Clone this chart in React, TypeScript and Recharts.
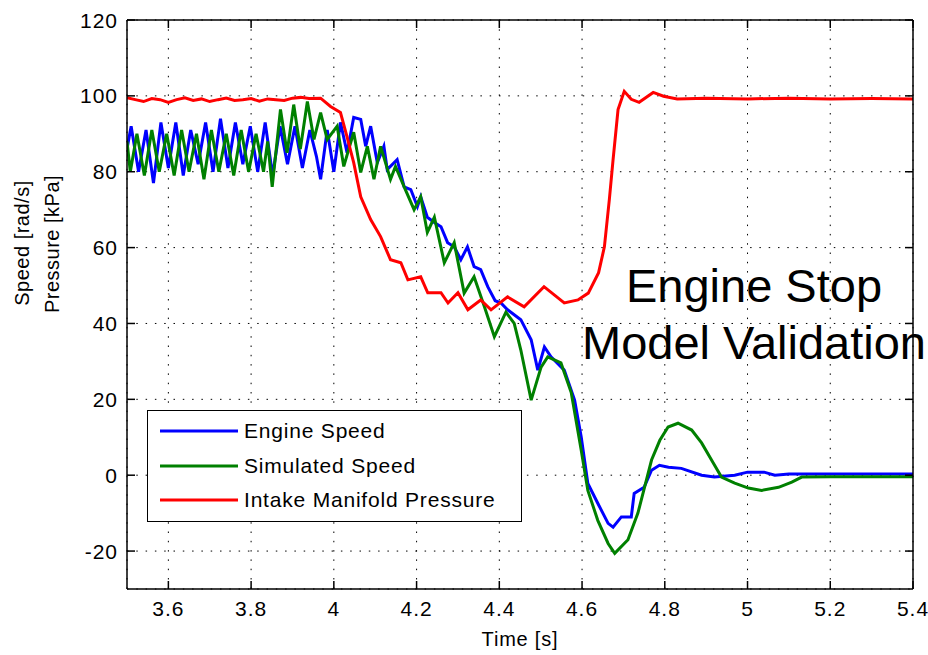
import React from 'react';
import { LineChart, Line, XAxis, YAxis, CartesianGrid, Legend } from 'recharts';

const xTicks = [3.6, 3.8, 4, 4.2, 4.4, 4.6, 4.8, 5, 5.2, 5.4];
const yTicks = [-20, 0, 20, 40, 60, 80, 100, 120];

const engineSpeed: [number, number][] = [
  [3.5, 86], [3.51, 92], [3.528, 80], [3.546, 91], [3.564, 77], [3.582, 93], [3.6, 81], [3.618, 93],
  [3.636, 79], [3.654, 91], [3.672, 82], [3.69, 93], [3.708, 80], [3.726, 94], [3.744, 81], [3.762, 93],
  [3.78, 82], [3.798, 92], [3.816, 80], [3.834, 93], [3.852, 79], [3.87, 92], [3.888, 82], [3.906, 92],
  [3.924, 81], [3.942, 91], [3.958, 84], [3.968, 78], [3.984, 91], [4.0, 80], [4.016, 93], [4.032, 85],
  [4.048, 94.3], [4.065, 93.8], [4.077, 86.7], [4.089, 92], [4.105, 82.4], [4.121, 86.7], [4.129, 80.6],
  [4.153, 83.2], [4.17, 76], [4.186, 75.3], [4.202, 70.8], [4.21, 73.4], [4.226, 68], [4.243, 66.6],
  [4.259, 65.5], [4.275, 61.3], [4.291, 60.2], [4.307, 56.8], [4.323, 60.2], [4.339, 55], [4.355, 54.2],
  [4.372, 49.7], [4.39, 46], [4.404, 45.4], [4.42, 43.6], [4.452, 41], [4.477, 35.7], [4.493, 27.7],
  [4.509, 33.8], [4.525, 31.2], [4.557, 27.7], [4.582, 19.8], [4.598, 10.1], [4.614, -2.2], [4.638, -7.4],
  [4.663, -12.7], [4.675, -13.7], [4.695, -11], [4.719, -11], [4.726, -4.8], [4.75, -3.2], [4.768, 1.3],
  [4.787, 2.6], [4.809, 2.1], [4.84, 1.8], [4.889, 0], [4.92, -0.5], [4.969, 0], [5.0, 0.8], [5.04, 0.8],
  [5.066, 0], [5.1, 0.3], [5.2, 0.3], [5.3, 0.3], [5.4, 0.3],
];

const simulatedSpeed: [number, number][] = [
  [3.5, 88], [3.508, 80], [3.524, 90], [3.542, 79], [3.56, 91], [3.578, 80], [3.596, 90], [3.614, 79],
  [3.632, 91], [3.65, 80], [3.668, 90], [3.686, 78], [3.704, 91], [3.722, 80], [3.74, 90], [3.758, 79],
  [3.776, 91], [3.794, 80], [3.812, 90], [3.83, 80], [3.84, 88], [3.851, 76], [3.871, 96.4], [3.887, 85],
  [3.903, 97.7], [3.919, 86], [3.936, 98.5], [3.952, 88.5], [3.968, 95.6], [3.984, 88.5], [4.008, 92],
  [4.024, 81.4], [4.048, 90.4], [4.065, 79.8], [4.081, 86.7], [4.097, 78], [4.113, 86.7], [4.137, 78],
  [4.149, 81.4], [4.17, 76], [4.194, 70], [4.21, 73.4], [4.226, 64], [4.243, 68], [4.267, 56], [4.291, 61.3],
  [4.315, 48], [4.339, 52.3], [4.364, 44.4], [4.388, 36.5], [4.416, 43], [4.436, 40], [4.452, 33],
  [4.477, 19.8], [4.501, 28.5], [4.517, 31.2], [4.549, 29.6], [4.574, 21.7], [4.598, 6.6], [4.614, -4],
  [4.638, -11.9], [4.663, -18], [4.679, -20.6], [4.711, -17], [4.735, -10], [4.751, -3.2], [4.768, 4],
  [4.788, 9.2], [4.808, 12.7], [4.832, 13.7], [4.865, 11.9], [4.889, 8.5], [4.913, 4], [4.937, -0.5],
  [4.969, -2.1], [5.002, -3.4], [5.034, -4], [5.075, -3.2], [5.107, -1.8], [5.131, -0.5], [5.2, -0.4],
  [5.3, -0.4], [5.4, -0.4],
];

const intakePressure: [number, number][] = [
  [3.5, 99.5], [3.52, 99], [3.54, 98.5], [3.56, 99.3], [3.58, 99], [3.6, 98.3], [3.62, 99], [3.64, 99.5],
  [3.66, 98.8], [3.68, 99.2], [3.7, 98.5], [3.72, 99], [3.74, 99.4], [3.76, 98.8], [3.78, 99], [3.8, 99.3],
  [3.82, 98.6], [3.84, 99.2], [3.86, 99], [3.88, 98.8], [3.9, 99.4], [3.92, 99.6], [3.94, 99.3], [3.968, 99.4],
  [3.992, 97.2], [4.016, 95.6], [4.03, 90], [4.048, 82.4], [4.065, 73.4], [4.089, 67.4], [4.113, 62.9],
  [4.137, 56.8], [4.162, 56], [4.179, 51.5], [4.21, 52.3], [4.227, 48.1], [4.259, 48.1], [4.276, 45.4],
  [4.3, 48.1], [4.324, 43.6], [4.355, 46.2], [4.38, 43.6], [4.42, 47], [4.46, 44.4], [4.508, 49.7],
  [4.557, 45.4], [4.59, 46.2], [4.615, 48], [4.64, 53.4], [4.654, 60.2], [4.666, 72.7], [4.675, 83.2],
  [4.687, 96.4], [4.702, 101.2], [4.719, 99.1], [4.738, 98.3], [4.772, 100.9], [4.797, 99.9], [4.83, 99.2],
  [4.9, 99.4], [5.0, 99.2], [5.1, 99.4], [5.2, 99.2], [5.3, 99.3], [5.4, 99.2],
];

const seriesNames = ['Engine Speed', 'Simulated Speed', 'Intake Manifold Pressure'];
const seriesColors = ['#0000ff', '#008000', '#ff0000'];

const toRows = (pairs: [number, number][]) => pairs.map(([t, v]) => ({ t, v }));

const FONT = '"Liberation Sans", Arial, Helvetica, sans-serif';
const AX = { stroke: '#000', strokeWidth: 1.5 };

const CHART_W = 920;
const CHART_H = 647;
const MARGIN = { top: 12, right: 15, bottom: 26, left: 59 };
const Y_AXIS_W = 60;
const X_AXIS_H = 40;
const PLOT_W = CHART_W - MARGIN.left - MARGIN.right - Y_AXIS_W;
const PLOT_H = CHART_H - MARGIN.top - MARGIN.bottom - X_AXIS_H;
const TICK_LEN = 8;
const X_TICK_GAP = 11;
const Y_TICK_GAP = 9;

const labelStyle = { fill: '#000', fontSize: 21, fontFamily: FONT, letterSpacing: 1 } as const;

const BottomTick = (props: any) => {
  const { x, y, payload } = props;
  const axisY = y - X_TICK_GAP;
  const topY = axisY - PLOT_H;
  return (
    <g>
      <line x1={x} x2={x} y1={axisY} y2={axisY - TICK_LEN} stroke="#000" strokeWidth={1.5} />
      <line x1={x} x2={x} y1={topY} y2={topY + TICK_LEN} stroke="#000" strokeWidth={1.5} />
      <text x={x} y={y} dy="0.75em" textAnchor="middle" {...labelStyle}>
        {String(payload.value)}
      </text>
    </g>
  );
};

const LeftTick = (props: any) => {
  const { x, y, payload } = props;
  const axisX = x + Y_TICK_GAP;
  const rightX = axisX + PLOT_W;
  return (
    <g>
      <line x1={axisX} x2={axisX + TICK_LEN} y1={y} y2={y} stroke="#000" strokeWidth={1.5} />
      <line x1={rightX - TICK_LEN} x2={rightX} y1={y} y2={y} stroke="#000" strokeWidth={1.5} />
      <text x={x} y={y} dy="0.36em" textAnchor="end" {...labelStyle}>
        {String(payload.value)}
      </text>
    </g>
  );
};

const renderLegend = () => (
  <div
    style={{
      width: 375,
      height: 112,
      border: '1.5px solid #000',
      background: '#fff',
      boxSizing: 'border-box',
      position: 'relative',
      fontFamily: FONT,
      fontSize: 21,
      letterSpacing: 0.8,
      color: '#000',
    }}
  >
    {seriesNames.map((name, i) => (
      <div
        key={name}
        style={{ position: 'absolute', left: 12, top: 8 + i * 34.5, height: 24, display: 'flex', alignItems: 'center' }}
      >
        <svg width={78} height={6} style={{ display: 'block' }}>
          <line x1={0} y1={3} x2={78} y2={3} stroke={seriesColors[i]} strokeWidth={3} />
        </svg>
        <span style={{ marginLeft: 6, whiteSpace: 'nowrap' }}>{name}</span>
      </div>
    ))}
  </div>
);

export default function App() {
  const data = [toRows(engineSpeed), toRows(simulatedSpeed), toRows(intakePressure)];
  return (
    <div style={{ position: 'relative', width: CHART_W, height: CHART_H, fontFamily: FONT }}>
      <style>{`html{overflow:hidden}body{margin:8px 0 0 8px}.recharts-surface{overflow:visible}`}</style>
      <LineChart width={CHART_W} height={CHART_H} margin={MARGIN}>
        <CartesianGrid stroke="#000" strokeDasharray="1.5 7.8" strokeWidth={1} />
        <XAxis
          dataKey="t"
          type="number"
          domain={[3.5, 5.4]}
          ticks={xTicks}
          interval={0}
          allowDataOverflow
          height={X_AXIS_H}
          tickSize={0}
          tickMargin={X_TICK_GAP}
          tick={BottomTick}
          axisLine={AX}
          tickLine={false}
        />
        <XAxis
          xAxisId="tm"
          orientation="top"
          mirror
          type="number"
          domain={[3.5, 5.4]}
          ticks={xTicks}
          allowDataOverflow
          height={10}
          tick={false}
          axisLine={AX}
          tickLine={false}
        />
        <YAxis
          type="number"
          domain={[-30, 120]}
          ticks={yTicks}
          interval={0}
          allowDataOverflow
          width={Y_AXIS_W}
          tickSize={0}
          tickMargin={Y_TICK_GAP}
          tick={LeftTick}
          axisLine={AX}
          tickLine={false}
        />
        <YAxis
          yAxisId="rm"
          orientation="right"
          mirror
          type="number"
          domain={[-30, 120]}
          ticks={yTicks}
          allowDataOverflow
          width={10}
          tick={false}
          axisLine={AX}
          tickLine={false}
        />
        <Legend
          layout="horizontal"
          verticalAlign="middle"
          align="center"
          content={renderLegend}
          wrapperStyle={{ left: 139, top: 402, width: 375, height: 112 }}
        />
        {data.map((rows, i) => (
          <Line
            key={seriesNames[i]}
            data={rows}
            dataKey="v"
            name={seriesNames[i]}
            stroke={seriesColors[i]}
            strokeWidth={3}
            dot={false}
            activeDot={false}
            type="linear"
            isAnimationActive={false}
          />
        ))}
      </LineChart>
      <div
        style={{
          position: 'absolute',
          left: 546,
          top: 249,
          width: 400,
          textAlign: 'center',
          fontSize: 47,
          lineHeight: '57px',
          color: '#000',
          fontFamily: FONT,
          pointerEvents: 'none',
        }}
      >
        Engine Stop
        <br />
        Model Validation
      </div>
      <div
        style={{
          position: 'absolute',
          left: 512,
          top: 631,
          transform: 'translate(-50%, -50%)',
          fontSize: 20,
          letterSpacing: 0.8,
          whiteSpace: 'nowrap',
          color: '#000',
        }}
      >
        Time [s]
      </div>
      <div
        style={{
          position: 'absolute',
          left: 14,
          top: 235,
          transform: 'translate(-50%, -50%) rotate(-90deg)',
          fontSize: 20,
          letterSpacing: 0.5,
          whiteSpace: 'nowrap',
          color: '#000',
        }}
      >
        Speed [rad/s]
      </div>
      <div
        style={{
          position: 'absolute',
          left: 44,
          top: 236,
          transform: 'translate(-50%, -50%) rotate(-90deg)',
          fontSize: 20,
          letterSpacing: 0.5,
          whiteSpace: 'nowrap',
          color: '#000',
        }}
      >
        Pressure [kPa]
      </div>
    </div>
  );
}
